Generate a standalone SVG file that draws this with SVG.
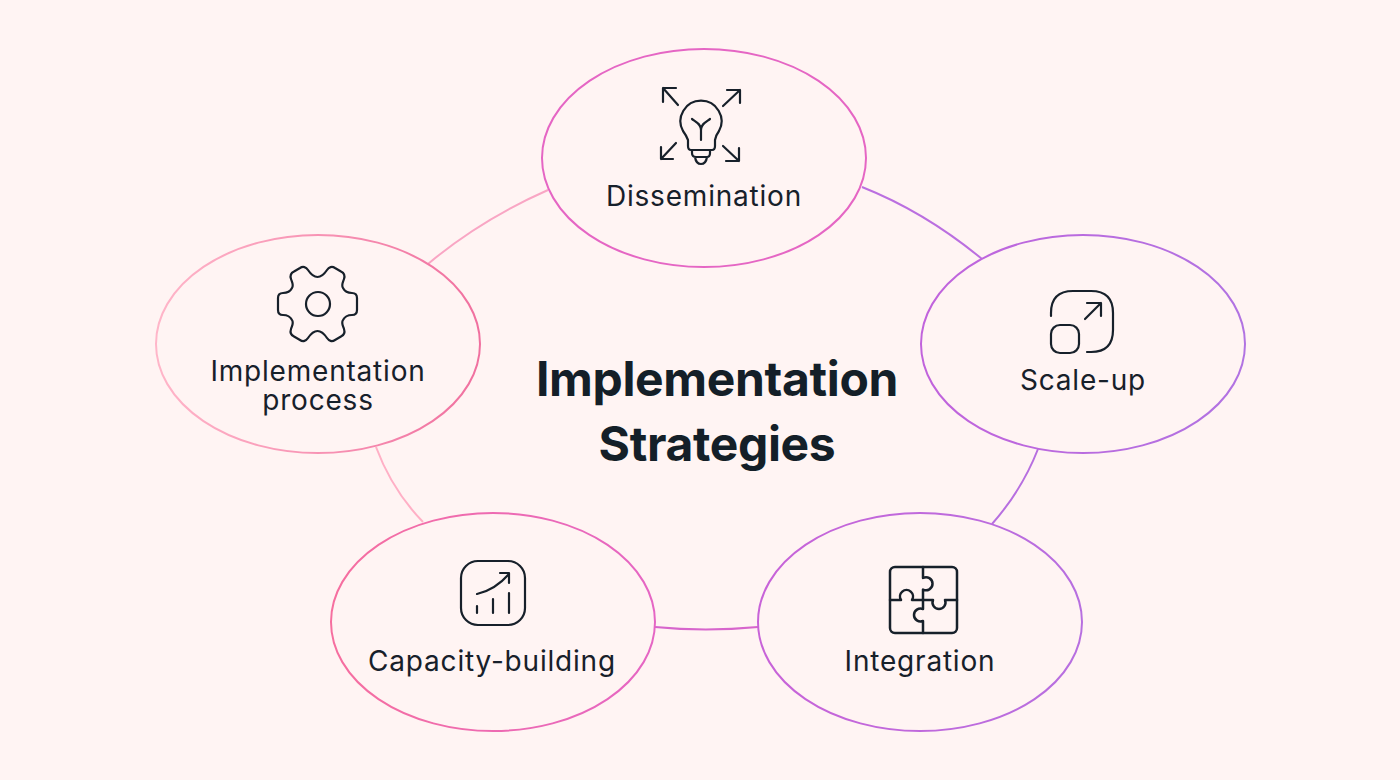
<svg xmlns="http://www.w3.org/2000/svg" width="1400" height="780" viewBox="0 0 1400 780">
<style>
.n{fill:#fff4f3;stroke-width:2}
.c{fill:none;stroke-width:2}
.i{fill:none;stroke:#17202a;stroke-width:2.2;stroke-linecap:round;stroke-linejoin:round}
.t{font-family:"Inter","Liberation Sans",sans-serif;font-size:28px;letter-spacing:.8px;fill:#17202a;text-anchor:middle}
.h{font-family:"Inter","Liberation Sans",sans-serif;font-size:48px;letter-spacing:-.35px;font-weight:700;fill:#141f28;text-anchor:middle}
</style>
<defs>
<linearGradient id="g1" x1="0" x2="1" y1="0" y2="0"><stop offset="0" stop-color="#ffb6c9"/><stop offset="1" stop-color="#f0709f"/></linearGradient>
<linearGradient id="g2" x1="0" x2="1" y1="0" y2="0"><stop offset="0" stop-color="#f66f9f"/><stop offset="1" stop-color="#e566c4"/></linearGradient>
<linearGradient id="g4" x1="0" x2="1" y1="0" y2="0"><stop offset="0" stop-color="#c163dc"/><stop offset="1" stop-color="#b173e2"/></linearGradient>
<linearGradient id="g5" x1="0" x2="1" y1="0" y2="0"><stop offset="0" stop-color="#c863d8"/><stop offset="1" stop-color="#b76fe0"/></linearGradient>
</defs>
<rect width="1400" height="780" fill="#fff4f3"/>
<g id="connectors">
<path class="c" stroke="#f9a6c4" d="M548 190Q480 220 428 264"/>
<path class="c" stroke="#bb6fe0" d="M862 187Q925 212 982 259"/>
<path class="c" stroke="#b76fe0" d="M1038 449Q1022 490 992 524"/>
<path class="c" stroke="#d765cc" d="M655 627Q705 632 758 627"/>
<path class="c" stroke="#ffb0c6" d="M376 447Q392 490 423 522"/>
</g>
<g id="node-dissemination">
<ellipse class="n" cx="704" cy="158" rx="162" ry="109" stroke="#e566c4"/>
<g class="i">
<path d="M688 140Q686 135 683 131A20.500 20.500 0 1 1 719 131Q716 135 715 140V146Q715 150 712 150H691Q688 150 688 146ZM701 140V130C701 124 696 122 692 119M701 130C701 124 706 122 710 119M692 150V153Q692 157 696 157H707Q710 157 710 153V150M695 157Q696 164 701 164Q706 164 707 157"/>
<path d="M678 105L663 88M676 88H663V102M723 106L740 90M727 90H740V103M676 143L661 159M661 147V159H673M723 146L739 161M739 148V161H726"/>
</g>
<text class="t" x="704" y="206">Dissemination</text>
</g>
<g id="node-scale-up">
<ellipse class="n" cx="1083" cy="344" rx="162" ry="109" stroke="url(#g4)"/>
<g class="i">
<path d="M1051 316V313Q1051 291 1073 291H1091Q1113 291 1113 313V330Q1113 352 1091 352H1087M1085 319L1101 303M1087 303H1101V316"/>
<rect x="1051" y="325" width="28" height="28" rx="9"/>
</g>
<text class="t" x="1083" y="390">Scale-up</text>
</g>
<g id="node-integration">
<ellipse class="n" cx="920" cy="622" rx="162" ry="109" stroke="url(#g5)"/>
<g class="i" style="stroke-width:2.500">
<rect x="890" y="567" width="67" height="66" rx="5"/>
<path d="M923 567V578A6.500 6.500 0 1 1 923 589.500V609A6.500 6.500 0 1 0 923 621V633M890 600H901A6.500 6.500 0 1 1 912 600H933A6.500 6.500 0 1 0 945 600H957"/>
</g>
<text class="t" x="920" y="671">Integration</text>
</g>
<g id="node-capacity">
<ellipse class="n" cx="493" cy="622" rx="162" ry="109" stroke="url(#g2)"/>
<g class="i">
<rect x="461" y="561" width="64" height="64" rx="17"/>
<path d="M477 594Q495 590 509 574M500 573H509V583M477 606V613M493 599V613M509 593V613"/>
</g>
<text class="t" x="492" y="671">Capacity-building</text>
</g>
<g id="node-implementation">
<ellipse class="n" cx="318" cy="344" rx="162" ry="109" stroke="url(#g1)"/>
<g class="i">
<path d="M317.500 277C322 277 325 273 327 270C329 267 332 266 335 268L341 271.500C344 273 345 276 344 279C343 282 341 285 343 288C345 292 348 293 352 293C355 293 357 295 357 298V310C357 313 355 315 352 315C348 315 345 316 343 320C341 323 343 326 344 329C345 332 344 335 341 336.500L335 340C332 342 329 341 327 338C325 335 322 331 317.500 331C313 331 310 335 308 338C306 341 303 342 300 340L294 336.500C291 335 290 332 291 329C292 326 294 323 292 320C290 316 287 315 283 315C280 315 278 313 278 310V298C278 295 280 293 283 293C287 293 290 292 292 288C294 285 292 282 291 279C290 276 291 273 294 271.500L300 268C303 266 306 267 308 270C310 273 313 277 317.500 277Z"/>
<circle cx="318" cy="304" r="12"/>
</g>
<text class="t"><tspan x="318" y="381">Implementation</tspan><tspan x="318" y="410">process</tspan></text>
</g>
<g id="title">
<text class="h"><tspan x="717" y="396">Implementation</tspan><tspan x="717" y="461">Strategies</tspan></text>
</g>
</svg>
